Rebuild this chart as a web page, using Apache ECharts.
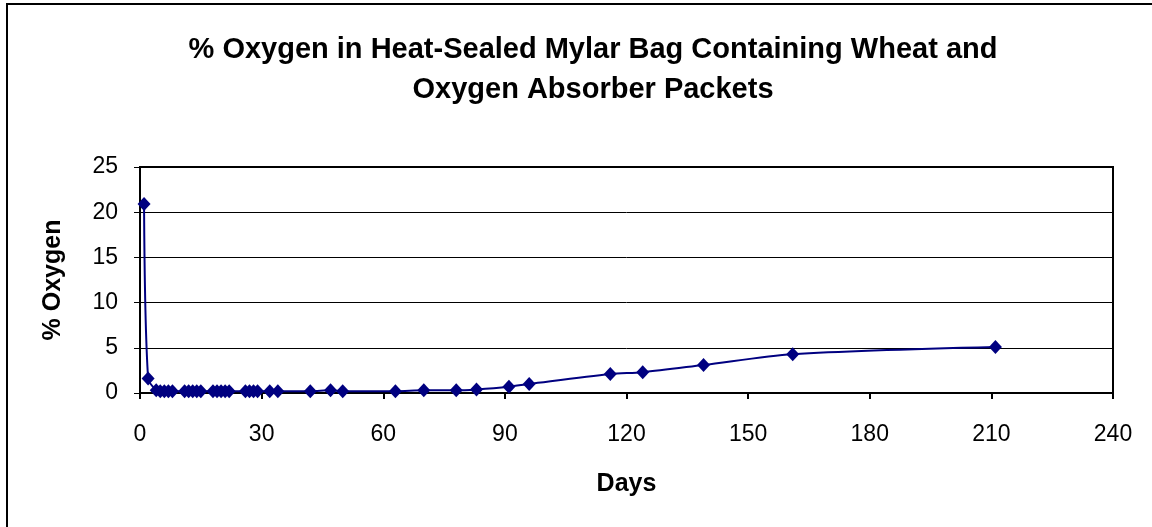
<!DOCTYPE html>
<html>
<head>
<meta charset="utf-8">
<script src="https://cdn.jsdelivr.net/npm/echarts@6/dist/echarts.min.js"></script>
<style>html,body{margin:0;padding:0;background:#fff;}#c{width:1152px;height:527px;}</style>
</head>
<body>
<div id="c"></div>
<script>
var days = [1,2,4,5,6,7,8,11,12,13,14,15,18,19,20,21,22,26,27,28,29,32,34,42,47,50,63,70,78,83,91,96,116,124,139,161,211];
var oxygen = [20.9,1.6,0.3,0.2,0.2,0.2,0.2,0.2,0.2,0.2,0.2,0.2,0.2,0.2,0.2,0.2,0.2,0.2,0.2,0.2,0.2,0.2,0.2,0.2,0.3,0.2,0.2,0.3,0.3,0.4,0.7,1.0,2.1,2.3,3.1,4.3,5.1];
var xTicks = [0,30,60,90,120,150,180,210,240];
var yTicks = [0,5,10,15,20,25];

var chart = echarts.init(document.getElementById('c'), null, {renderer:'canvas'});
var font = 'Liberation Sans, Arial, sans-serif';
chart.setOption({
  backgroundColor:'#fff',
  animation:false,
  title:{
    text:'% Oxygen in Heat-Sealed Mylar Bag Containing Wheat and\nOxygen Absorber Packets',
    left:588, top:25, textAlign:'center',
    textStyle:{fontFamily:font, fontWeight:'bold', fontSize:29, lineHeight:40, color:'#000'}
  },
  graphic:[{type:'rect', shape:{x:7,y:4,width:1170,height:560}, style:{fill:null, stroke:'#000', lineWidth:2}, silent:true}],
  grid:{left:140, right:39, top:167, bottom:134, show:true, borderColor:'#000', borderWidth:2, backgroundColor:'transparent'},
  xAxis:{
    type:'value', min:xTicks[0], max:xTicks[xTicks.length-1], interval:30,
    name:'Days', nameLocation:'middle', nameGap:79,
    nameTextStyle:{fontFamily:font, fontWeight:'bold', fontSize:25, color:'#000'},
    axisLine:{show:true, lineStyle:{color:'#000', width:2}},
    axisTick:{show:true, inside:false, length:6, lineStyle:{color:'#000', width:2}},
    axisLabel:{fontFamily:font, fontSize:23, color:'#000', margin:30},
    splitLine:{show:false}
  },
  yAxis:{
    type:'value', min:yTicks[0], max:yTicks[yTicks.length-1], interval:5,
    name:'% Oxygen', nameLocation:'middle', nameGap:74, nameRotate:90,
    nameTextStyle:{fontFamily:font, fontWeight:'bold', fontSize:25, color:'#000'},
    axisLine:{show:true, lineStyle:{color:'#000', width:2}},
    axisTick:{show:true, inside:false, length:6, lineStyle:{color:'#000', width:1}},
    axisLabel:{fontFamily:font, fontSize:23, color:'#000', margin:22},
    splitLine:{show:true, lineStyle:{color:'#000', width:1}}
  },
  series:[{
    type:'line',
    data: days.map(function(d,i){return [d, oxygen[i]];}),
    smooth:0.3,
    symbol:'diamond', symbolSize:[13,14],
    lineStyle:{color:'#000080', width:2},
    itemStyle:{color:'#000080'}
  }]
});
</script>
</body>
</html>
